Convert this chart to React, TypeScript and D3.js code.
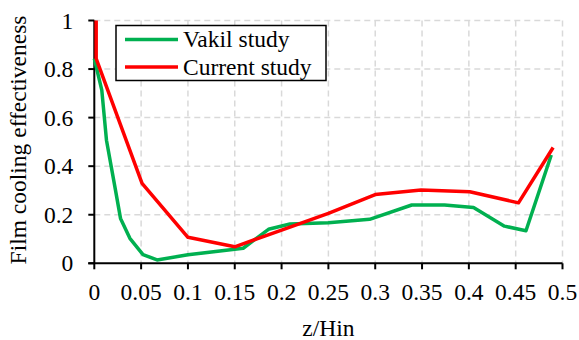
import { useEffect, useRef } from "react";
import { select, scaleLinear, line, range } from "d3";

// Vakil study (x = z/Hin, y = effectiveness)
const vakilX = [0, 0.008, 0.013, 0.022, 0.028, 0.038, 0.052, 0.067, 0.1, 0.159, 0.186, 0.209, 0.25, 0.294, 0.339, 0.374, 0.405, 0.438, 0.461, 0.488];
const vakilY = [0.843, 0.713, 0.507, 0.315, 0.185, 0.103, 0.036, 0.014, 0.035, 0.062, 0.14, 0.162, 0.167, 0.181, 0.24, 0.24, 0.23, 0.153, 0.134, 0.446];

// Current study
const currentX = [0.002, 0.002, 0.051, 0.1, 0.15, 0.2, 0.25, 0.3, 0.349, 0.401, 0.453, 0.49];
const currentY = [1.0, 0.843, 0.329, 0.107, 0.068, 0.137, 0.206, 0.283, 0.302, 0.295, 0.249, 0.477];

const xTicks = range(0, 0.501, 0.05).map((v) => +v.toFixed(2));
const yTicks = [0, 0.2, 0.4, 0.6, 0.8, 1];

const series = [
  { name: "Vakil study", color: "#00B050", xs: vakilX, ys: vakilY },
  { name: "Current study", color: "#FF0000", xs: currentX, ys: currentY },
];

const W = 579;
const H = 340;
const left = 94.3;
const right = 562.5;
const top = 20.5;
const bottom = 263.3;

export default function App() {
  const svgRef = useRef<SVGSVGElement>(null);

  useEffect(() => {
    const svg = select(svgRef.current);
    svg.selectAll("*").remove();
    svg.style("font-family", "'Liberation Serif', 'DejaVu Serif', serif").style("font-size", "23.5px");

    const x = scaleLinear().domain([0, 0.5]).range([left, right]);
    const y = scaleLinear().domain([0, 1]).range([bottom, top]);

    // grid
    svg.append("g").selectAll("line").data(xTicks.slice(1)).join("line")
      .attr("x1", (d) => x(d)).attr("x2", (d) => x(d))
      .attr("y1", top).attr("y2", bottom)
      .attr("stroke", "#d9d9d9").attr("stroke-width", 1.5).attr("stroke-dasharray", "6,4");
    svg.append("g").selectAll("line").data(yTicks.slice(1)).join("line")
      .attr("x1", left).attr("x2", right)
      .attr("y1", (d) => y(d)).attr("y2", (d) => y(d))
      .attr("stroke", "#d9d9d9").attr("stroke-width", 1.5).attr("stroke-dasharray", "6,4");

    // axes
    svg.append("line").attr("x1", left).attr("x2", left).attr("y1", top).attr("y2", bottom)
      .attr("stroke", "#000").attr("stroke-width", 2);
    svg.append("line").attr("x1", left - 6).attr("x2", right).attr("y1", bottom).attr("y2", bottom)
      .attr("stroke", "#000").attr("stroke-width", 2);

    const yt = svg.append("g").selectAll("g").data(yTicks).join("g");
    yt.append("line").attr("x1", left - 6).attr("x2", left)
      .attr("y1", (d) => y(d)).attr("y2", (d) => y(d))
      .attr("stroke", "#000").attr("stroke-width", 2);
    yt.append("text").attr("x", left - 21).attr("y", (d) => y(d) + 8)
      .attr("text-anchor", "end").text((d) => String(d));

    const xt = svg.append("g").selectAll("g").data(xTicks).join("g");
    xt.append("line").attr("x1", (d) => x(d)).attr("x2", (d) => x(d))
      .attr("y1", bottom).attr("y2", bottom + 6)
      .attr("stroke", "#000").attr("stroke-width", 2);
    xt.append("text").attr("x", (d) => x(d)).attr("y", 300)
      .attr("text-anchor", "middle").text((d) => String(d));

    // series
    const path = line<[number, number]>().x((d) => x(d[0])).y((d) => y(d[1]));
    series.forEach((s) => {
      svg.append("path")
        .attr("d", path(s.xs.map((v, i) => [v, s.ys[i]] as [number, number])))
        .attr("fill", "none").attr("stroke", s.color)
        .attr("stroke-width", 3.5).attr("stroke-linejoin", "round");
    });

    // axis titles
    svg.append("text").attr("x", (left + right) / 2).attr("y", 336)
      .attr("text-anchor", "middle").text("z/Hin");
    svg.append("text").attr("transform", "translate(26,140) rotate(-90)")
      .attr("text-anchor", "middle").text("Film cooling effectiveness");

    // legend
    svg.append("rect").attr("x", 116).attr("y", 25.5).attr("width", 210).attr("height", 55)
      .attr("fill", "#fff").attr("stroke", "#000").attr("stroke-width", 1.5);
    series.forEach((s, i) => {
      svg.append("line").attr("x1", 125).attr("x2", 178)
        .attr("y1", 39.5 + i * 27.5).attr("y2", 39.5 + i * 27.5)
        .attr("stroke", s.color).attr("stroke-width", 3.5);
      svg.append("text").attr("x", 183).attr("y", 47 + i * 27.5).text(s.name);
    });
  }, []);

  return (
    <svg
      ref={svgRef}
      width={W}
      height={H}
      style={{ position: "absolute", left: 0, top: 0, background: "#fff" }}
    />
  );
}
